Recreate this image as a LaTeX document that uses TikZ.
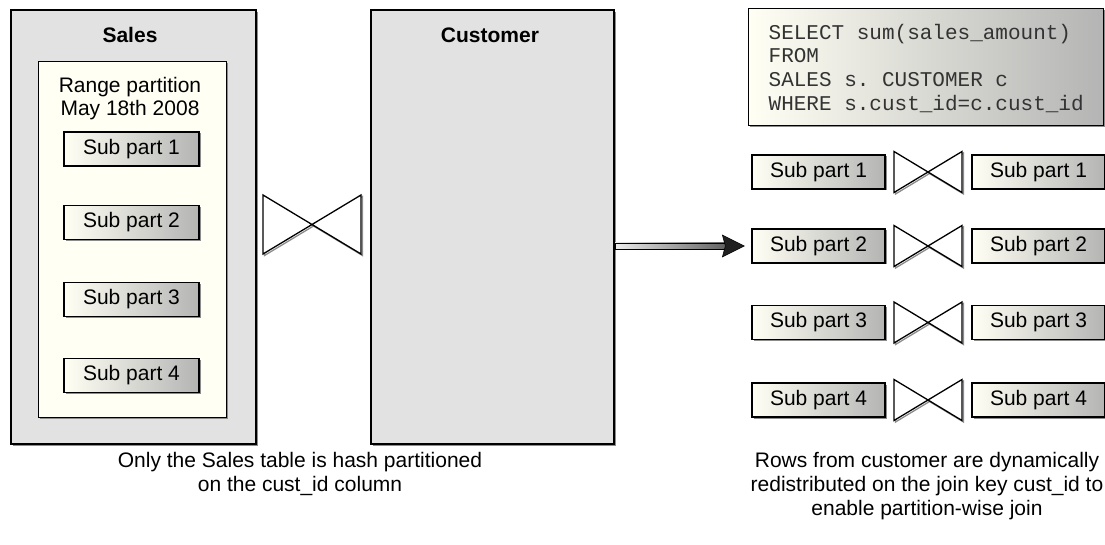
\documentclass[tikz,border=0pt]{standalone}
\usepackage{fontspec}
\setmainfont{Liberation Sans}
\setmonofont{Liberation Mono}
\usetikzlibrary{shadows,calc}
\definecolor{panel}{HTML}{E2E2E2}
\definecolor{cream}{HTML}{FFFFF4}
\definecolor{gdark}{HTML}{B4B4B4}
\definecolor{shd}{HTML}{8C8C8C}
\definecolor{code}{HTML}{333333}
\begin{document}
\begin{tikzpicture}[x=1pt,y=-1pt,
  every node/.style={font=\fontsize{21}{24}\selectfont, inner sep=0pt},
  panelbox/.style={draw=black, line width=2.2pt, fill=panel,
    drop shadow={shadow xshift=2pt, shadow yshift=-2pt, fill=shd, opacity=1}},
  innerbox/.style={draw=black, line width=1.4pt, fill=cream,
    drop shadow={shadow xshift=1.5pt, shadow yshift=-1.5pt, fill=shd, opacity=1}},
  subbox/.style={draw=black, line width=1.3pt, left color=cream, right color=gdark,
    minimum width=133, minimum height=34,
    drop shadow={shadow xshift=1.5pt, shadow yshift=-1.5pt, fill=shd, opacity=1}},
  sqlbox/.style={draw=black, line width=1.3pt, left color=cream, right color=gdark,
    inner xsep=20pt, minimum height=117, align=left, text=code,
    font=\fontsize{21}{23.7}\selectfont\ttfamily,
    drop shadow={shadow xshift=1.5pt, shadow yshift=-1.5pt, fill=shd, opacity=1}},
  title/.style={font=\fontsize{21}{24}\selectfont\bfseries},
  caption/.style={align=center, font=\fontsize{21}{24}\selectfont},
  bow/.style={draw=black, line width=1.3pt, fill=white, line join=miter},
  bowshadow/.style={draw=shd, line width=1.3pt, line join=miter}
]
\useasboundingbox (0,0) rectangle (1105,545);

% left panels
\node[panelbox, minimum width=245, minimum height=434, anchor=north west] (sales) at (10,9) {};
\node[panelbox, minimum width=243, minimum height=434, anchor=north west] (cust) at (370,9) {};
\node[title] (tsales) at (130,35) {Sales};
\node[title] (tcust) at (490,35) {Customer};

\node[innerbox, minimum width=188, minimum height=356, anchor=north west] (range) at (38,61) {};
\node[align=center, font=\fontsize{21}{23}\selectfont] (rtitle) at (130,99) {Range partition\\May 18th 2008};

\node[subbox, minimum width=135] (s1) at (131.5,149) {Sub part 1};
\node[subbox, minimum width=135] (s2) at (131.5,222.5) {Sub part 2};
\node[subbox, minimum width=135] (s3) at (131.5,299.5) {Sub part 3};
\node[subbox, minimum width=135] (s4) at (131.5,375.5) {Sub part 4};

% big join symbol
\draw[bowshadow] (264.5,196.5) -- (362.5,255.5) -- (362.5,196.5) -- (264.5,255.5) -- cycle;
\draw[bow] (263,195) -- (361,254) -- (361,195) -- (263,254) -- cycle;

% SQL
\node[sqlbox, anchor=north west, text depth=0pt] (sql) at (748,8) {\rule{0pt}{4pt}SELECT sum(sales\_amount)\\FROM\\SALES s. CUSTOMER c\\WHERE s.cust\_id=c.cust\_id};

% right side pairs
\foreach \i/\y in {1/172, 2/246, 3/322.5, 4/400}{
  \node[subbox] (a\i) at (818.5,\y) {Sub part \i};
  \node[subbox] (b\i) at (1038.5,\y) {Sub part \i};
  \draw[bowshadow] (895.5,\y-19) -- (963.5,\y+22) -- (963.5,\y-19) -- (895.5,\y+22) -- cycle;
  \draw[bow] (894,\y-20.5) -- (962,\y+20.5) -- (962,\y-20.5) -- (894,\y+20.5) -- cycle;
}

% arrow
\coordinate (as) at (cust.east |- a2.west);
\shade[left color=gray!15, right color=gray!75!black, draw=black, line width=0.8pt]
  ($(as)+(0,-3)$) rectangle ($(a2.west)+(-24,3)$);
\filldraw[draw=black, line width=0.5pt, fill=gray!25!black]
  ($(a2.west)+(-29,-11)$) -- ($(a2.west)+(-7,0)$) -- ($(a2.west)+(-29,11)$) -- ($(a2.west)+(-26,0)$) -- cycle;

% captions
\node[caption] (capL) at (300,474) {Only the Sales table is hash partitioned\\on the cust\_id column};
\node[caption] (capR) at (927,486) {Rows from customer are dynamically\\redistributed on the join key cust\_id to\\enable partition-wise join};
\end{tikzpicture}
\end{document}
